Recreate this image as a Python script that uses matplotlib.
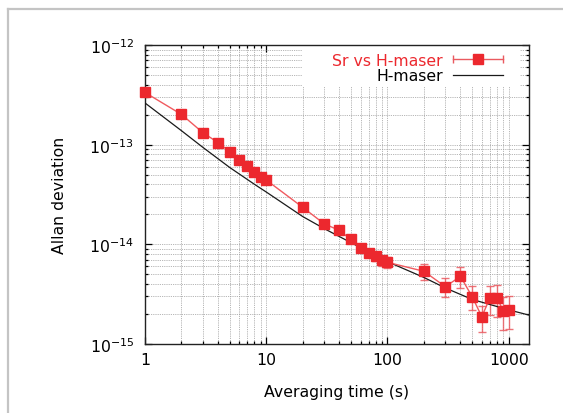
import matplotlib
matplotlib.use("Agg")
import matplotlib.pyplot as plt
import numpy as np
from matplotlib.lines import Line2D
from matplotlib.patches import Rectangle
from matplotlib.legend_handler import HandlerLine2D, HandlerTuple
from matplotlib.ticker import FixedLocator, LogFormatterSciNotation, FuncFormatter, NullFormatter

# Sr vs H-maser Allan deviation
tau = [1, 2, 3, 4, 5, 6, 7, 8, 9, 10,
       20, 30, 40, 50, 60, 70, 80, 90, 100,
       200, 300, 400, 500, 600, 700, 800, 900, 1000]
adev = [3.34e-13, 2.01e-13, 1.32e-13, 1.05e-13, 8.5e-14, 7.03e-14, 6.17e-14, 5.28e-14, 4.7e-14, 4.42e-14,
        2.35e-14, 1.61e-14, 1.38e-14, 1.12e-14, 9.1e-15, 8.2e-15, 7.55e-15, 6.9e-15, 6.6e-15,
        5.36e-15, 3.76e-15, 4.77e-15, 2.98e-15, 1.88e-15, 2.90e-15, 2.90e-15, 2.16e-15, 2.21e-15]
adev_err = [0, 0, 0, 0, 0, 0, 0, 0, 0, 0,
            0.8e-15, 0.8e-15, 0.8e-15, 0.8e-15, 0.8e-15, 0.8e-15, 0.8e-15, 0.8e-15, 0.8e-15,
            0.97e-15, 0.81e-15, 1.15e-15, 0.8e-15, 0.55e-15, 0.93e-15, 1.03e-15, 0.77e-15, 0.81e-15]

# H-maser reference curve
maser_tau = [1, 2, 3, 5, 8, 10, 20, 30, 50, 100, 200, 300, 500, 1000, 1470]
maser_adev = [2.62e-13, 1.38e-13, 9.4e-14, 5.9e-14, 4.0e-14, 3.35e-14, 1.9e-14, 1.44e-14, 1.04e-14,
              6.7e-15, 4.65e-15, 3.65e-15, 2.8e-15, 2.2e-15, 1.95e-15]

x_ticks = [1, 10, 100, 1000]
y_ticks = [1e-15, 1e-14, 1e-13, 1e-12]

RED = "#ec282e"
LINE_RED = "#f05a5f"
ERR_RED = "#ea5a60"

plt.rcParams['font.family'] = ['DejaVu Sans']
plt.rcParams['font.size'] = 11.3

fig = plt.figure(figsize=(5.63, 4.14), dpi=100)
ax = fig.add_axes([145 / 563, 1 - 345 / 414, 384 / 563, 299 / 414])

ax.errorbar(tau, adev, yerr=adev_err, fmt='none', ecolor=ERR_RED, elinewidth=1.0,
            capsize=3, capthick=1.0, alpha=0.85, zorder=3)
ax.plot(tau, adev, color=LINE_RED, lw=1.0, zorder=3.5)
ax.plot(tau, adev, ls='none', marker='s', ms=7.5, color=RED, mec=RED, zorder=4, clip_on=False)
ax.plot(maser_tau, maser_adev, color='#1a1a1a', lw=0.9, zorder=3.2)

ax.set_xscale('log')
ax.set_yscale('log')
ax.set_xlim(1, 1470)
ax.set_ylim(1e-15, 1e-12)

x_minor = [m * d for d in [1, 10, 100, 1000] for m in range(2, 10) if m * d < 1470]
y_minor = [m * d for d in [1e-15, 1e-14, 1e-13] for m in range(2, 10)]
ax.xaxis.set_major_locator(FixedLocator(x_ticks))
ax.xaxis.set_minor_locator(FixedLocator(x_minor))
ax.xaxis.set_major_formatter(FuncFormatter(lambda v, p: "%g" % v))
ax.xaxis.set_minor_formatter(NullFormatter())
ax.yaxis.set_major_locator(FixedLocator(y_ticks))
ax.yaxis.set_minor_locator(FixedLocator(y_minor))
ax.yaxis.set_major_formatter(LogFormatterSciNotation())
ax.yaxis.set_minor_formatter(NullFormatter())

ax.tick_params(which='both', direction='in', top=True, right=True, width=0.9)
ax.tick_params(which='major', length=5, pad=6)
ax.tick_params(axis='y', which='major', pad=8)
ax.tick_params(which='minor', length=2.5)

ax.grid(True, which='both', color='#9c9c9c', linestyle=(0, (1, 1.2)), linewidth=0.6)
for s in ax.spines.values():
    s.set_linewidth(1.0)
    s.set_color('#222222')

ax.set_xlabel("Averaging time (s)", labelpad=12)
ax.set_ylabel("Allan deviation", labelpad=16)

# white key area hiding the grid, as in gnuplot
ax.add_patch(Rectangle((0.409, 0.862), 0.568, 0.138, transform=ax.transAxes,
                       facecolor='white', edgecolor='none', zorder=2))

# legend: text on the left, sample on the right
caps = Line2D([], [], color=ERR_RED, lw=1.0, marker='|', ms=6, mew=1.0)
square = Line2D([], [], ls='none', marker='s', ms=7.5, color=RED)
maser_h = Line2D([], [], color='#1a1a1a', lw=0.9)
leg = ax.legend([(caps, square), maser_h], ["Sr vs H-maser", "H-maser"],
                handler_map={caps: HandlerLine2D(numpoints=2, marker_pad=0),
                             square: HandlerLine2D(numpoints=1),
                             tuple: HandlerTuple(ndivide=1, pad=0)},
                loc='upper right', bbox_to_anchor=(0.945, 0.99), borderaxespad=0,
                borderpad=0.3, markerfirst=False, handlelength=3.2, handletextpad=0.64,
                labelspacing=0.05, frameon=False)
leg.get_texts()[0].set_color(RED)
leg.set_zorder(5)

# light grey panel border on the top and left
fig.add_artist(Line2D([8 / 563, 1], [1 - 10 / 414, 1 - 10 / 414], color='#c4c4c4', lw=1.6))
fig.add_artist(Line2D([8 / 563, 8 / 563], [0, 1 - 10 / 414], color='#c4c4c4', lw=1.6))

fig.savefig("out.png", dpi=100)
